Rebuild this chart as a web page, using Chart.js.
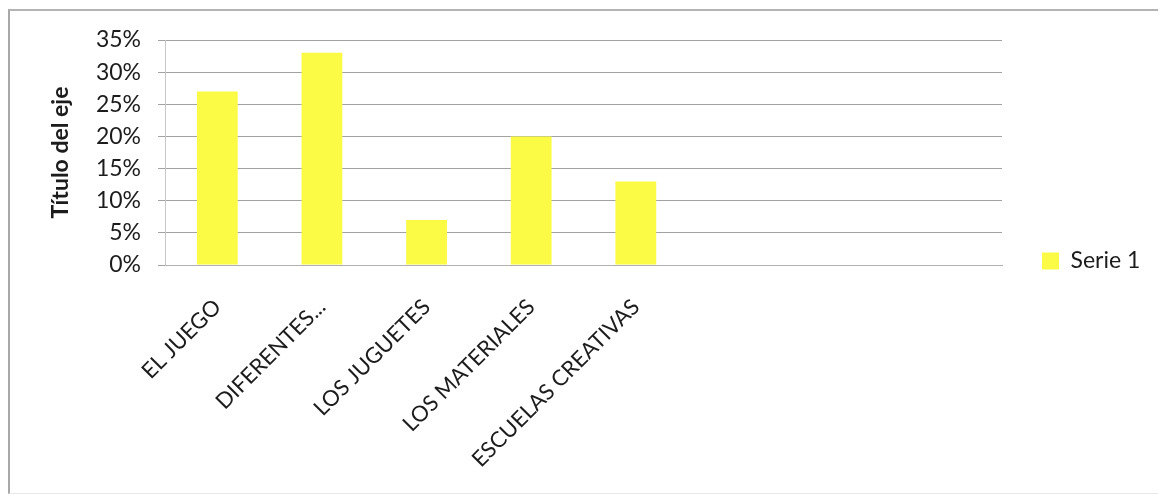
<!DOCTYPE html>
<html>
<head>
<meta charset="utf-8">
<script src="https://cdn.jsdelivr.net/npm/chart.js@4"></script>
<style>
html,body{margin:0;padding:0;background:#fff;}
#frame{position:absolute;left:8px;top:9px;width:1150px;height:485px;border-top:2px solid #b4b4b4;border-left:2px solid #a8a8a8;border-bottom:1px solid #e8e8e8;box-sizing:border-box;}
#wrap{position:absolute;left:0;top:0;width:1160px;height:500px;}
</style>
</head>
<body>
<div id="frame"></div>
<div id="wrap"><canvas id="c" width="1160" height="500"></canvas></div>
<script>
const categories = ['EL JUEGO', 'DIFERENTES...', 'LOS JUGUETES', 'LOS MATERIALES', 'ESCUELAS CREATIVAS', '', '', ''];
const serie1 = [0.27, 0.33, 0.07, 0.20, 0.13, null, null, null];
const yTickLabels = ['0%', '5%', '10%', '15%', '20%', '25%', '30%', '35%'];
const seriesName = 'Serie 1';
const yAxisTitle = 'Título del eje';

const FONT = 'Lato';
const textColor = '#1c1c1c';
const fontSize = 23;
const xFontSize = 22;
const legendFontSize = 23;

// layout geometry
const padLeft = 43, padTop = 40, padBottom = 18;
const plotLeft = 165, plotRight = 1002, plotBottom = 265;
const legendPad = 10, legendBox = 17, legendGap = 30;

function draw() {
  const mctx = document.createElement('canvas').getContext('2d');
  mctx.font = legendFontSize + 'px ' + FONT;
  const legendTextW = mctx.measureText(seriesName).width;
  const legendW = 2 * legendPad + legendBox + legendFontSize / 2 + legendTextW;
  const padRight = Math.max(0, 1160 - plotRight - legendGap - legendW);

  new Chart(document.getElementById('c'), {
    type: 'bar',
    data: {
      labels: categories,
      datasets: [{
        label: seriesName,
        data: serie1,
        backgroundColor: '#fbfb45',
        borderWidth: 0,
        barPercentage: 0.39,
        categoryPercentage: 1.0,
        yAxisID: 'y'
      }]
    },
    options: {
      responsive: false,
      animation: false,
      layout: { padding: { left: padLeft, top: padTop, bottom: padBottom, right: padRight } },
      plugins: {
        tooltip: { enabled: false },
        legend: {
          position: 'right',
          align: 'center',
          labels: {
            font: { family: FONT, size: legendFontSize },
            color: textColor,
            boxWidth: legendBox,
            boxHeight: legendBox,
            padding: legendPad
          }
        }
      },
      scales: {
        x: {
          offset: true,
          grid: { display: false, drawTicks: false },
          border: { display: true, color: '#b0b0b0', width: 1 },
          ticks: {
            autoSkip: false,
            minRotation: 45,
            maxRotation: 45,
            padding: 29,
            color: textColor,
            font: { family: FONT, size: xFontSize }
          },
          afterFit: (s) => { s.height = 500 - padBottom - plotBottom; }
        },
        y: {
          min: 0,
          max: 0.35,
          ticks: {
            stepSize: 0.05,
            padding: 17,
            color: textColor,
            font: { family: FONT, size: fontSize },
            callback: (v, i) => yTickLabels[i]
          },
          grid: { color: '#a2a2a2', lineWidth: 1, drawTicks: true, tickLength: 7 },
          border: { display: true, color: '#c6c6c6', width: 1 },
          title: {
            display: true,
            text: yAxisTitle,
            color: textColor,
            font: { family: FONT, size: fontSize, weight: 'bold' },
            padding: { top: 4, bottom: 4 }
          },
          afterFit: (s) => { s.width = plotLeft - padLeft; }
        },
        yPad: {
          type: 'linear',
          position: 'right',
          display: true,
          grid: { display: false, drawTicks: false },
          border: { display: false },
          ticks: { display: false },
          afterFit: (s) => { s.width = legendGap; }
        }
      }
    }
  });
}

Promise.all([
  document.fonts.load(fontSize + 'px ' + FONT),
  document.fonts.load('bold ' + fontSize + 'px ' + FONT)
]).then(draw, draw);
</script>
</body>
</html>
